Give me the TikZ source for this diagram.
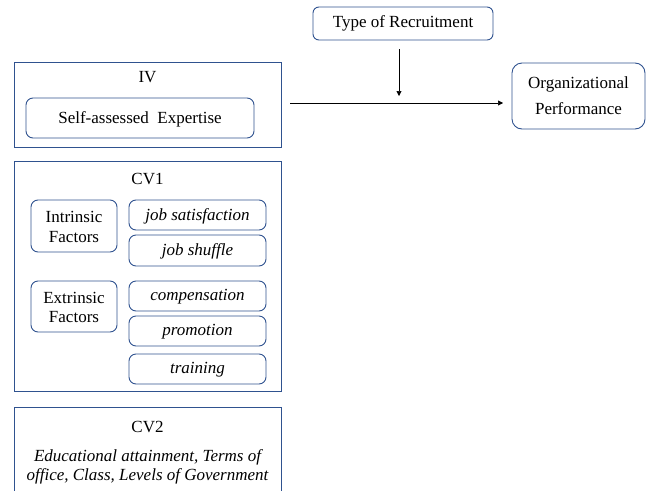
\documentclass[tikz,border=0pt]{standalone}
\usepackage{fontspec}
\setmainfont{Liberation Serif}
\usetikzlibrary{arrows.meta}
\definecolor{boxblue}{RGB}{47,82,143}
\begin{document}
\begin{tikzpicture}[x=1pt,y=-1pt,
  frame/.style={draw=boxblue,line width=1pt},
  rbox/.style={draw=boxblue,line width=0.9pt,rounded corners=7pt},
  txt/.style={font=\fontsize{17}{19.5}\selectfont,align=center,inner sep=0pt},
  itxt/.style={font=\fontsize{17}{19}\selectfont\itshape,align=center,inner sep=0pt},
  arr/.style={-{Triangle[length=5pt,width=5pt]},line width=0.6pt}]
\useasboundingbox (0,0) rectangle (650,490);
% IV
\draw[frame] (14,62) rectangle (281,147);
\node[txt] (iv) at (147.5,77) {IV};
\draw[rbox] (26,98) rectangle (254,138);
\node[txt] (sae) at (140,119) {Self-assessed\ \ Expertise};
% CV1
\draw[frame] (14,161) rectangle (281,391);
\node[txt] (cv1) at (147.5,179) {CV1};
\draw[rbox] (31,200) rectangle (117,252);
\node[txt] (intr) at (74,227) {Intrinsic\\Factors};
\draw[rbox] (129,200) rectangle (266,230);
\node[itxt] (js) at (197.5,216) {job satisfaction};
\draw[rbox] (129,235) rectangle (266,266);
\node[itxt] (jsh) at (197.5,251.5) {job shuffle};
\draw[rbox] (31,281) rectangle (117,332);
\node[txt] (extr) at (74,307.5) {Extrinsic\\Factors};
\draw[rbox] (129,281) rectangle (266,311);
\node[itxt] (comp) at (197.5,297) {compensation};
\draw[rbox] (129,316) rectangle (266,346);
\node[itxt] (prom) at (197.5,332) {promotion};
\draw[rbox] (129,354) rectangle (266,384);
\node[itxt] (train) at (197.5,370) {training};
% CV2
\draw[frame] (14,500) -- (14,407) -- (281,407) -- (281,500);
\node[txt] (cv2) at (147.5,427) {CV2};
\node[itxt] (cv2t) at (147.5,466.5) {Educational attainment, Terms of\\office, Class, Levels of Government};
% right side
\node[rbox,txt,minimum width=180pt,minimum height=33pt,rounded corners=6pt] (tor) at (403,23.5) {Type of Recruitment};
\node[rbox,font=\fontsize{17}{26}\selectfont,align=center,inner sep=0pt,minimum width=133pt,minimum height=66pt,rounded corners=10pt] (op) at (578.5,96) {Organizational\\Performance};
\coordinate (hs) at (290,103);
\coordinate (he) at (503,103);
\coordinate (vs) at (399,49);
\coordinate (ve) at (399,96);
\draw[arr] (hs) -- (he);
\draw[arr] (vs) -- (ve);
\end{tikzpicture}
\end{document}
